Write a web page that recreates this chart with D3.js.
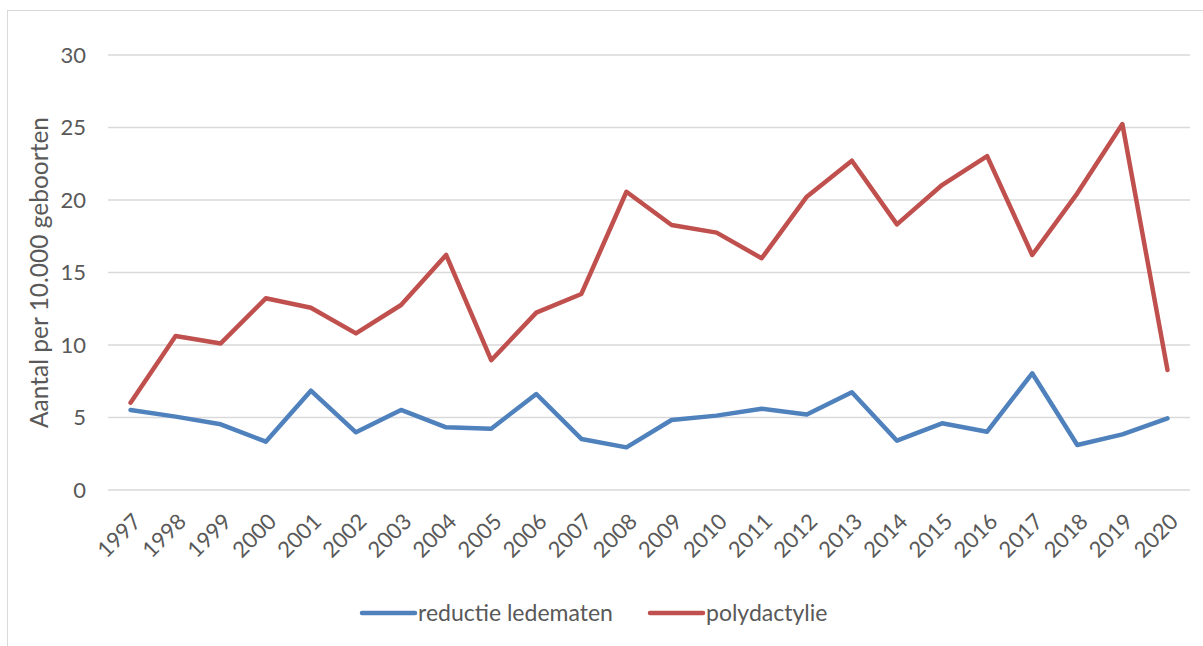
<!DOCTYPE html>
<html>
<head>
<meta charset="utf-8">
<script src="https://cdn.jsdelivr.net/npm/d3@7"></script>
<style>
  body { margin: 0; background: #fff; }
  text { font-family: Lato, "Open Sans", sans-serif; fill: #595959; }
</style>
</head>
<body>
<div id="chart"></div>
<script>
// data
const years = ["1997","1998","1999","2000","2001","2002","2003","2004","2005","2006","2007","2008",
               "2009","2010","2011","2012","2013","2014","2015","2016","2017","2018","2019","2020"];
const reductie = [5.52, 5.06, 4.53, 3.33, 6.85, 3.98, 5.52, 4.32, 4.23, 6.62, 3.52, 2.94,
                  4.83, 5.13, 5.61, 5.20, 6.74, 3.40, 4.60, 4.02, 8.05, 3.10, 3.84, 4.94];
const polydactylie = [6.02, 10.62, 10.11, 13.22, 12.57, 10.80, 12.76, 16.21, 8.95, 12.23, 13.52, 20.57,
                      18.28, 17.75, 15.98, 20.23, 22.71, 18.32, 21.03, 23.03, 16.21, 20.46, 25.24, 8.28];
const yTicks = [0, 5, 10, 15, 20, 25, 30];
const seriesNames = ["reductie ledematen", "polydactylie"];
const seriesColors = ["#4F81BD", "#C0504D"];

const W = 1203, H = 646;
const svg = d3.select("#chart").append("svg")
    .attr("width", W)
    .attr("height", H);

// chart frame
svg.append("rect")
    .attr("x", 7.5).attr("y", 10.5)
    .attr("width", 1300).attr("height", 700)
    .attr("fill", "none")
    .attr("stroke", "#d9d9d9");

let x = d3.scaleBand()
    .domain(years)
    .range([108, 1190]);

let y = d3.scaleLinear()
    .domain([0, 30])
    .range([490, 55]);

// gridlines
svg.append("g").selectAll("line").data(yTicks).enter()
    .append("line")
    .attr("x1", 108).attr("x2", 1190)
    .attr("y1", d => y(d)).attr("y2", d => y(d))
    .attr("stroke", "#d9d9d9")
    .attr("stroke-width", 1.5);

// y axis labels
svg.append("g")
    .attr("transform", "translate(86,0)")
    .call(d3.axisLeft(y).tickValues(yTicks).tickSize(0).tickPadding(0))
    .call(g => g.select(".domain").remove())
    .selectAll("text")
    .style("font-size", "22px")
    .attr("fill", "#595959");

// x axis labels, rotated
svg.append("g").selectAll("text").data(years).enter()
    .append("text")
    .attr("transform", d => `translate(${x(d) + x.bandwidth()/2 + 12},${523}) rotate(-45)`)
    .attr("text-anchor", "end")
    .style("font-size", "22px")
    .text(d => d);

// lines
let line = d3.line()
    .x((d, i) => x(years[i]) + x.bandwidth()/2)
    .y(d => y(d));

[reductie, polydactylie].forEach((vals, k) => {
    svg.append("path")
        .datum(vals)
        .attr("d", line)
        .attr("fill", "none")
        .attr("stroke", seriesColors[k])
        .attr("stroke-width", 4.5)
        .attr("stroke-linejoin", "round")
        .attr("stroke-linecap", "round");
});

// y axis title
svg.append("text")
    .attr("transform", `translate(48,${y(15)}) rotate(-90)`)
    .style("text-anchor", "middle")
    .style("font-size", "24.5px")
    .text("Aantal per 10.000 geboorten");

// legend
const legX = [362, 650];
seriesNames.forEach((name, k) => {
    svg.append("line")
        .attr("x1", legX[k]).attr("x2", legX[k] + 53)
        .attr("y1", 613).attr("y2", 613)
        .attr("stroke", seriesColors[k])
        .attr("stroke-width", 4.5)
        .attr("stroke-linecap", "round");
    svg.append("text")
        .attr("x", legX[k] + 56)
        .attr("y", 613)
        .attr("dy", "0.35em")
        .style("font-size", "23px")
        .text(name);
});
</script>
</body>
</html>
